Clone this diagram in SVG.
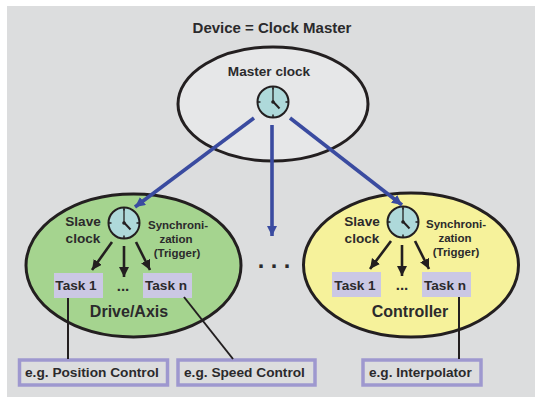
<svg xmlns="http://www.w3.org/2000/svg" width="535" height="398" viewBox="0 0 535 398">
<defs>
<marker id="blue" markerUnits="userSpaceOnUse" markerWidth="11" markerHeight="11" refX="10" refY="5" orient="auto"><path d="M0 0L10 5L0 10z" fill="#3a4ba0"/></marker>
<marker id="black" markerUnits="userSpaceOnUse" markerWidth="11" markerHeight="11" refX="10" refY="5" orient="auto"><path d="M0 0L10 5L0 10z" fill="#231f20"/></marker>
<g id="clock">
<circle r="15.500" fill="#aed9da" stroke="#231f20" stroke-width="2"/>
<path d="M0-15.500V-12.500M0 15.500V12.500M-15.500 0H-12.500M15.500 0H12.500" stroke="#231f20" stroke-width="1.500"/>
<path d="M0 0V-14" stroke="#231f20" stroke-width="1.300" fill="none"/>
<path d="M-0.500-1L6.500 6.500" stroke="#231f20" stroke-width="2" fill="none"/>
<circle r="1.800" fill="#231f20"/>
</g>
</defs>
<style>
text{font-family:"Liberation Sans",Arial,sans-serif;font-weight:bold;fill:#2b2a2c}
.e{stroke:#231f20;stroke-width:3}
.t{fill:#cbc8e4}
.b{fill:#dcddde;stroke:#9e98cf;stroke-width:3.500}
.l{fill:none;stroke:#231f20;stroke-width:2}
.bl{fill:none;stroke:#3a4ba0;stroke-width:3.600}
.k{fill:none;stroke:#231f20;stroke-width:2.600}
.m{text-anchor:middle}
</style>
<rect x="7" y="6" width="528" height="391" fill="#dcddde"/>
<text class="m" x="272" y="33" font-size="15">Device = Clock Master</text>
<g id="master"><ellipse class="e" cx="273" cy="104" rx="95" ry="57" fill="#e6e7e8"/><text class="m" x="269" y="76" font-size="13.600">Master clock</text><use href="#clock" x="273" y="102"/></g>
<g id="drive"><ellipse class="e" cx="133.500" cy="265.500" rx="107.500" ry="71.500" fill="#a5d48f"/>
<use href="#clock" x="124" y="223"/>
<text class="m" x="83" y="226" font-size="13.600">Slave</text><text class="m" x="83" y="243" font-size="13.600">clock</text>
<g font-size="11.500"><text class="m" x="178" y="229">Synchroni-</text><text class="m" x="176" y="243">zation</text><text class="m" x="177" y="257">(Trigger)</text></g>
<text class="m" x="123" y="291" font-size="15">...</text>
<text class="m" x="129" y="317" font-size="16">Drive/Axis</text></g>
<g id="task-1a"><rect class="t" x="54" y="273" width="49" height="25"/><text class="m" x="76" y="290" font-size="13.600">Task 1</text></g>
<g id="task-na"><rect class="t" x="143" y="273" width="49" height="25"/><text class="m" x="166" y="290" font-size="13.600">Task n</text></g>
<g id="controller"><ellipse class="e" cx="411" cy="265" rx="107.500" ry="72" fill="#f6f29b"/>
<use href="#clock" x="403" y="222"/>
<text class="m" x="362" y="226" font-size="13.600">Slave</text><text class="m" x="362" y="243" font-size="13.600">clock</text>
<g font-size="11.500"><text class="m" x="456" y="228">Synchroni-</text><text class="m" x="455" y="242">zation</text><text class="m" x="456" y="256">(Trigger)</text></g>
<text class="m" x="402" y="290" font-size="15">...</text>
<text class="m" x="410" y="317" font-size="16">Controller</text></g>
<g id="task-1b"><rect class="t" x="332" y="272" width="49" height="25"/><text class="m" x="355" y="290" font-size="13.600">Task 1</text></g>
<g id="task-nb"><rect class="t" x="422" y="272" width="49" height="25"/><text class="m" x="445" y="290" font-size="13.600">Task n</text></g>
<g id="box-position"><rect class="b" x="19.500" y="360" width="148" height="25"/><text x="25" y="377" font-size="13.700">e.g. Position Control</text></g>
<g id="box-speed"><rect class="b" x="178" y="360" width="137" height="25"/><text x="184" y="377" font-size="13.700">e.g. Speed Control</text></g>
<g id="box-interpolator"><rect class="b" x="363" y="360" width="118" height="25"/><text x="369" y="377" font-size="13.600">e.g. Interpolator</text></g>
<g id="connectors">
<path class="bl" d="M254 118L135 207" marker-end="url(#blue)"/>
<path class="bl" d="M272 125V236" marker-end="url(#blue)"/>
<path class="bl" d="M290 118L402 205" marker-end="url(#blue)"/>
<path class="k" d="M112 242L92 270" marker-end="url(#black)"/>
<path class="k" d="M124 246V277" marker-end="url(#black)"/>
<path class="k" d="M136 242L150 270" marker-end="url(#black)"/>
<path class="k" d="M391 241L370 269" marker-end="url(#black)"/>
<path class="k" d="M402 245V276" marker-end="url(#black)"/>
<path class="k" d="M415 241L429 269" marker-end="url(#black)"/>
<path class="l" d="M68 298V359"/>
<path class="l" d="M184 297L233 359"/>
<path class="l" d="M459 297V359"/>
</g>
<text class="m" x="274" y="268" font-size="23.500">. . .</text>
</svg>
